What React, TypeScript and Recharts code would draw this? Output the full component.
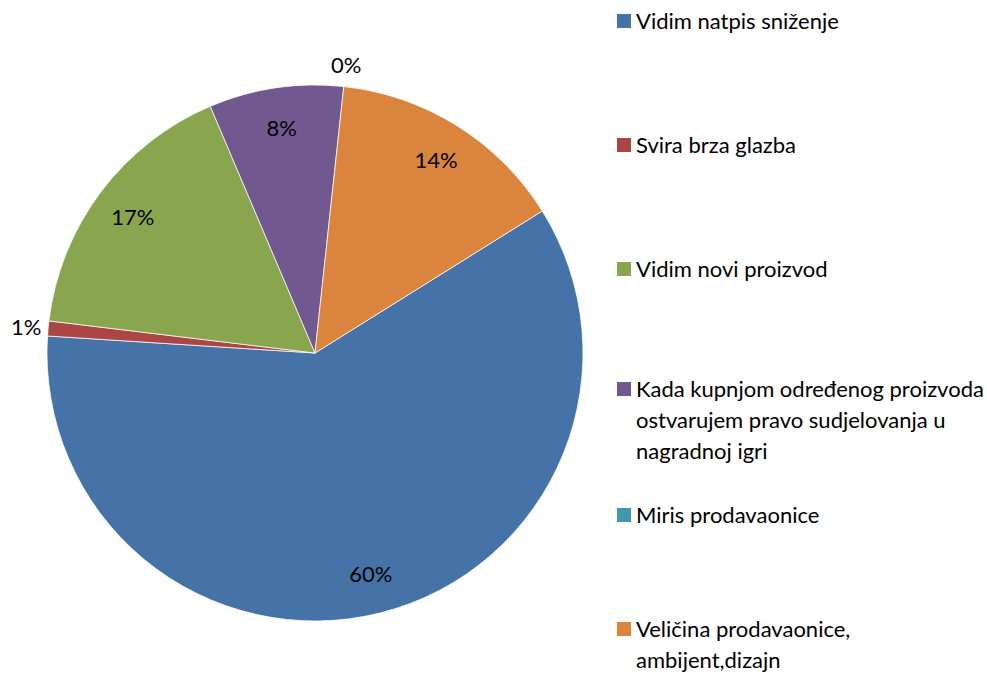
import { Cell, Legend, Pie, PieChart } from "recharts";

const categories = [
  "Vidim natpis sniženje",
  "Svira brza glazba",
  "Vidim novi proizvod",
  "Kada kupnjom određenog proizvoda\nostvarujem pravo sudjelovanja u\nnagradnoj igri",
  "Miris prodavaonice",
  "Veličina prodavaonice,\nambijent,dizajn",
];

const shares = [59.9, 0.9, 16.7, 8.1, 0, 14.4];

const colors = ["#4572A7", "#AA4643", "#89A54E", "#71588F", "#4198AF", "#DB843D"];

const data = categories.map((name, i) => ({ name, value: shares[i] }));

const FONT = "Lato, 'Open Sans', sans-serif";
const RADIAN = Math.PI / 180;

// first-line tops of the legend entries, as Excel spaced them
const legendTops = [10, 134, 258, 378, 504, 618];

function renderLabel(props: any) {
  const { cx, cy, midAngle, outerRadius, percent } = props;
  const r = percent < 0.02 ? outerRadius + 22 : outerRadius * 0.85;
  const x = cx + r * Math.cos(-midAngle * RADIAN);
  const y = cy + r * Math.sin(-midAngle * RADIAN);
  return (
    <text
      x={x}
      y={y}
      fill="#000"
      fontSize={22}
      fontFamily={FONT}
      textAnchor="middle"
      dominantBaseline="central"
    >
      {`${Math.round(percent * 100)}%`}
    </text>
  );
}

function LegendBox() {
  return (
    <div style={{ position: "relative", width: 370, height: 677 }}>
      {categories.map((name, i) => (
        <div
          key={name}
          style={{
            position: "absolute",
            left: 0,
            top: legendTops[i],
            display: "flex",
            alignItems: "flex-start",
            fontFamily: FONT,
            fontSize: 22,
            color: "#000",
          }}
        >
          <span
            style={{
              display: "inline-block",
              width: 14,
              height: 14,
              marginTop: 4,
              marginRight: 5,
              background: colors[i],
              flexShrink: 0,
            }}
          />
          <div>
            {name.split("\n").map((line, j, all) => (
              <div
                key={j}
                style={{
                  lineHeight: "22px",
                  whiteSpace: "nowrap",
                  marginBottom: j < all.length - 1 ? 9 : 0,
                }}
              >
                {line}
              </div>
            ))}
          </div>
        </div>
      ))}
    </div>
  );
}

export default function App() {
  return (
    <div
      style={{
        position: "absolute",
        left: 0,
        top: 0,
        width: 987,
        height: 677,
        background: "#fff",
      }}
    >
      <PieChart width={987} height={677} margin={{ top: 0, right: 0, bottom: 0, left: 0 }}>
        <Pie
          data={data}
          dataKey="value"
          nameKey="name"
          cx={315}
          cy={353}
          outerRadius={268}
          startAngle={32}
          endAngle={-328}
          stroke="#fff"
          strokeWidth={0.75}
          label={renderLabel}
          labelLine={false}
          isAnimationActive={false}
        >
          {data.map((d, i) => (
            <Cell key={d.name} fill={colors[i]} />
          ))}
        </Pie>
        <Legend
          layout="vertical"
          align="right"
          verticalAlign="top"
          content={() => <LegendBox />}
          wrapperStyle={{ left: 617, top: 0, width: 370, height: 677 }}
        />
      </PieChart>
    </div>
  );
}
